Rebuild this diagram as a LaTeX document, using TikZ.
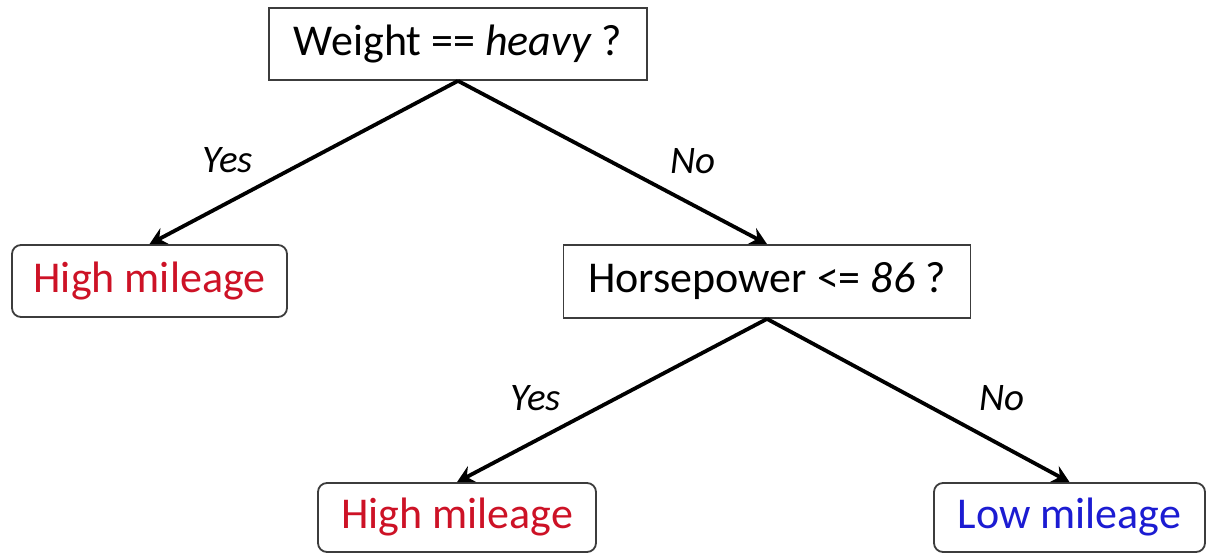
\documentclass[tikz,border=0pt]{standalone}
\usepackage{fontspec}
\setmainfont{Carlito}
\usetikzlibrary{arrows.meta}
\definecolor{leafred}{RGB}{205,18,38}
\definecolor{leafblue}{RGB}{28,28,210}
\definecolor{boxgray}{RGB}{60,60,60}
\tikzset{
  qbox/.style={draw=boxgray, line width=1.8pt, fill=white, inner sep=0pt,
    font=\fontsize{44}{50}\selectfont, text=black},
  leaf/.style={qbox, rounded corners=9pt},
  edge/.style={line width=3.8pt, black, -{Stealth[length=17pt,width=18pt,inset=6pt]}},
  elabel/.style={font=\fontsize{39}{46}\selectfont\itshape, text=black}
}
\begin{document}
\begin{tikzpicture}[x=1pt,y=-1pt]
\useasboundingbox (0,0) rectangle (1207,553);
\node[qbox, minimum width=378pt, minimum height=72pt] (root) at (458,44) {Weight == \textit{heavy} ?};
\node[leaf, minimum width=275pt, minimum height=72pt, text=leafred] (hl1) at (149.5,281) {High mileage};
\node[qbox, minimum width=407pt, minimum height=73pt] (hp) at (767,281.5) {Horsepower <= \textit{86} ?};
\node[leaf, minimum width=278pt, minimum height=69pt, text=leafred] (hl2) at (457,517.5) {High mileage};
\node[leaf, minimum width=271pt, minimum height=69pt, text=leafblue] (lm) at (1069.5,517.5) {Low mileage};
\draw[edge] (root.south) -- (hl1.north);
\draw[edge] (root.south) -- (hp.north);
\draw[edge] (hp.south) -- (hl2.north);
\draw[edge] (hp.south) -- (lm.north);
\node[elabel] (y1) at (228,160) {Yes};
\node[elabel] (n1) at (693,161) {No};
\node[elabel] (y2) at (536,398) {Yes};
\node[elabel] (n2) at (1002,398) {No};
\end{tikzpicture}
\end{document}
